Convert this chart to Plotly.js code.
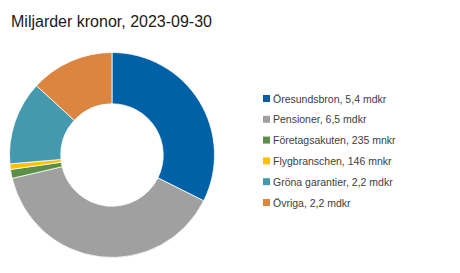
<!DOCTYPE html>
<html>
<head>
<meta charset="utf-8">
<script src="https://cdn.plot.ly/plotly-3.0.1.min.js"></script>
<style>html,body{margin:0;padding:0;background:#fff;}#chart{width:460px;height:273px;}</style>
</head>
<body>
<div id="chart"></div>
<script>
// Data
const categories = ["Öresundsbron", "Pensioner", "Företagsakuten", "Flygbranschen", "Gröna garantier", "Övriga"];
const values = [5.4, 6.5, 0.235, 0.146, 2.2, 2.2]; // miljarder kronor
const valueLabels = ["5,4 mdkr", "6,5 mdkr", "235 mnkr", "146 mnkr", "2,2 mdkr", "2,2 mdkr"];
const colors = ["#0061A6", "#A0A0A0", "#5B8F46", "#FFC000", "#4599AF", "#DC8540"];
const titleText = "Miljarder kronor, 2023-09-30";

const W = 460, H = 273;
const px = x => x / W;
const py = y => 1 - y / H;

const trace = {
  type: "pie",
  labels: categories,
  values: values,
  hole: 0.5,
  sort: false,
  direction: "clockwise",
  rotation: 0,
  textinfo: "none",
  hoverinfo: "label+value",
  marker: { colors: colors, line: { color: "#ffffff", width: 0.75 } },
  domain: { x: [px(9.5), px(214.5)], y: [py(257.5), py(52.5)] },
  showlegend: false
};

const legendY0 = 98.5, legendStep = 20.8;
const annotations = [];
const shapes = [];
categories.forEach((c, i) => {
  const yc = legendY0 + i * legendStep;
  shapes.push({
    type: "rect", xref: "paper", yref: "paper",
    x0: px(263), x1: px(270), y0: py(yc + 3.5), y1: py(yc - 3.5),
    fillcolor: colors[i], line: { width: 0 }
  });
  annotations.push({
    xref: "paper", yref: "paper", x: px(271), y: py(yc),
    xanchor: "left", yanchor: "middle", showarrow: false,
    text: c + ", " + valueLabels[i],
    font: { family: "Liberation Sans, Arial, sans-serif", size: 10.5, color: "#404040" }
  });
});

const layout = {
  width: W, height: H,
  margin: { l: 0, r: 0, t: 0, b: 0 },
  paper_bgcolor: "#ffffff",
  title: {
    text: titleText,
    x: px(11), xanchor: "left", xref: "paper",
    y: py(21), yanchor: "middle", yref: "paper",
    font: { family: "Liberation Sans, Arial, sans-serif", size: 16, color: "#1a1a1a" }
  },
  showlegend: false,
  shapes: shapes,
  annotations: annotations
};

Plotly.newPlot("chart", [trace], layout, { displayModeBar: false, staticPlot: true });
</script>
</body>
</html>
